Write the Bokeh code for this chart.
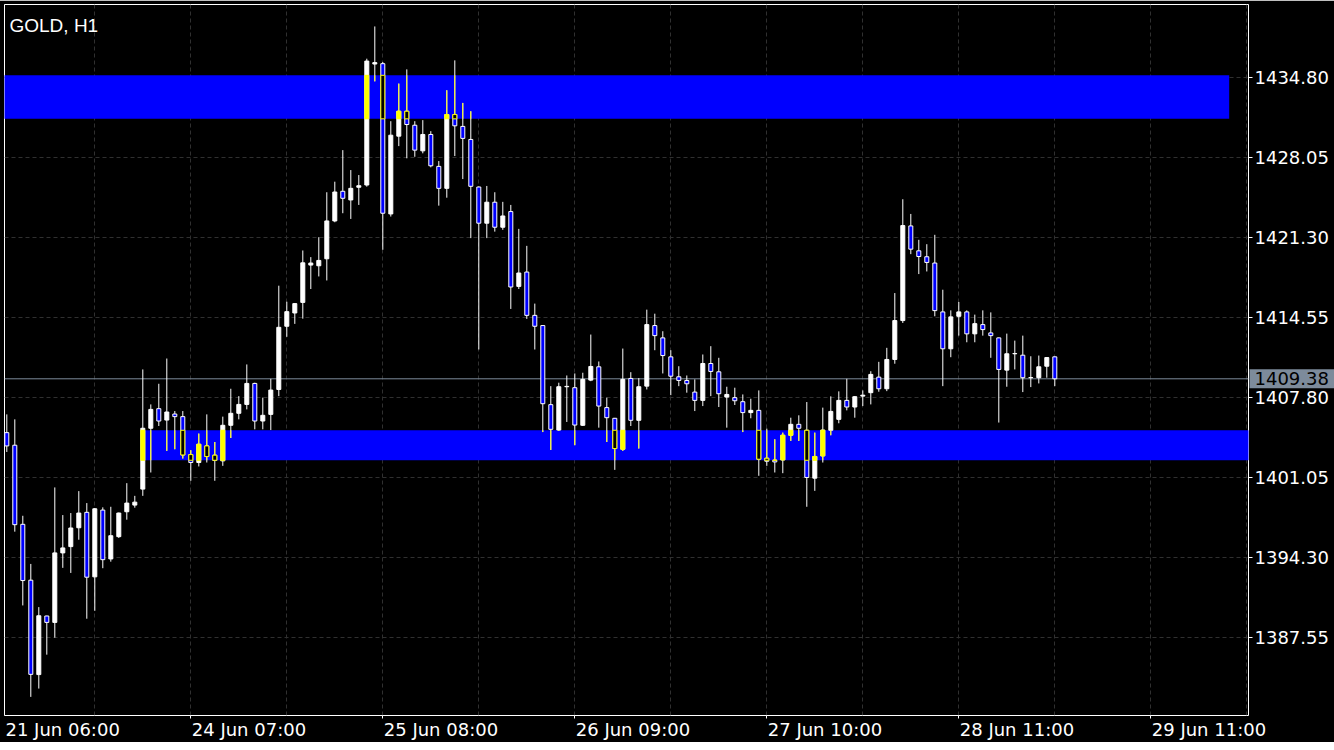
import numpy as np
from bokeh.plotting import figure
from bokeh.models import Range1d, FixedTicker, PrintfTickFormatter, Label, Span
from bokeh.embed import file_html
from bokeh.resources import INLINE

# ---------------- data (GOLD, H1) ----------------
opens = [1404.84, 1403.78, 1397.11, 1392.40, 1384.44, 1389.38, 1388.84, 1394.70, 1395.23, 1396.82,
         1398.12, 1392.68, 1398.31, 1394.19, 1396.07, 1398.17, 1398.73, 1400.08, 1405.21, 1406.86,
         1405.90, 1406.41, 1406.19, 1402.99, 1402.32, 1403.72, 1402.94, 1402.46, 1405.46, 1406.47,
         1407.22, 1408.99, 1405.82, 1406.38, 1408.48, 1413.81, 1414.93, 1415.82, 1418.97, 1418.91,
         1419.50, 1422.69, 1425.19, 1424.46, 1425.53, 1425.72, 1435.92, 1435.95, 1423.28, 1429.84,
         1431.94, 1430.76, 1428.60, 1429.98, 1427.29, 1425.44, 1431.66, 1430.66, 1429.56, 1425.55,
         1422.50, 1424.27, 1422.16, 1423.48, 1417.17, 1418.38, 1414.73, 1413.87, 1407.20, 1405.06,
         1408.71, 1408.63, 1405.46, 1409.27, 1410.39, 1406.95, 1406.05, 1403.44, 1409.41, 1405.88,
         1408.76, 1413.87, 1412.83, 1411.23, 1409.55, 1409.24, 1408.26, 1407.56, 1410.67, 1409.97,
         1407.84, 1407.79, 1407.45, 1406.53, 1406.72, 1402.68, 1402.52, 1402.54, 1404.62, 1405.54,
         1405.04, 1401.00, 1402.88, 1405.04, 1405.96, 1407.56, 1407.00, 1407.92, 1408.21, 1409.52,
         1408.54, 1411.01, 1414.29, 1422.27, 1420.17, 1419.67, 1419.14, 1415.02, 1411.91, 1414.65,
         1415.02, 1413.17, 1413.95, 1413.25, 1412.83, 1410.11, 1411.49, 1411.37, 1409.47, 1409.47,
         1410.44, 1411.23]
highs = [1406.38, 1405.96, 1397.83, 1393.77, 1390.13, 1389.40, 1400.22, 1397.89, 1398.06, 1399.91,
         1398.90, 1398.48, 1398.54, 1398.59, 1398.10, 1400.58, 1399.51, 1410.17, 1407.22, 1408.96,
         1411.09, 1406.66, 1406.66, 1403.36, 1404.76, 1406.38, 1404.05, 1406.19, 1408.54, 1407.92,
         1410.59, 1409.05, 1407.79, 1409.38, 1417.23, 1415.88, 1415.75, 1420.20, 1419.64, 1421.32,
         1425.11, 1426.00, 1428.66, 1426.98, 1426.56, 1436.37, 1439.09, 1436.09, 1431.10, 1434.27,
         1435.47, 1431.10, 1431.19, 1430.26, 1427.74, 1433.71, 1436.23, 1432.64, 1431.94, 1425.60,
         1425.64, 1425.11, 1424.30, 1424.04, 1422.02, 1420.59, 1415.72, 1413.90, 1408.76, 1409.05,
         1409.66, 1409.83, 1409.89, 1413.11, 1410.84, 1407.79, 1406.08, 1411.93, 1409.94, 1409.44,
         1415.21, 1414.87, 1413.39, 1411.79, 1410.44, 1409.66, 1409.33, 1411.43, 1412.13, 1411.15,
         1408.71, 1408.63, 1408.06, 1407.70, 1408.40, 1405.18, 1404.28, 1404.84, 1406.10, 1406.30,
         1407.42, 1404.84, 1406.95, 1407.90, 1408.32, 1409.38, 1407.92, 1408.40, 1410.02, 1410.81,
         1411.99, 1416.61, 1424.52, 1423.28, 1421.10, 1420.73, 1421.52, 1416.89, 1415.15, 1415.86,
         1415.15, 1414.79, 1415.15, 1414.98, 1412.86, 1413.19, 1412.60, 1413.02, 1411.28, 1411.34,
         1411.20, 1411.26]
lows = [1403.21, 1396.49, 1390.27, 1382.56, 1383.26, 1386.12, 1387.55, 1393.44, 1393.01, 1395.81,
        1389.15, 1389.82, 1393.41, 1393.96, 1395.96, 1397.50, 1398.51, 1399.51, 1401.48, 1405.40,
        1403.30, 1403.44, 1402.66, 1400.78, 1401.99, 1402.32, 1400.78, 1402.04, 1404.39, 1405.96,
        1406.80, 1405.12, 1405.12, 1405.06, 1407.92, 1412.92, 1414.01, 1414.45, 1416.95, 1418.01,
        1417.67, 1422.58, 1423.34, 1422.86, 1424.04, 1425.58, 1434.46, 1420.26, 1423.06, 1429.00,
        1427.97, 1428.10, 1428.39, 1427.21, 1423.98, 1424.65, 1428.16, 1426.22, 1421.24, 1411.85,
        1421.24, 1421.79, 1421.94, 1415.27, 1416.95, 1414.43, 1411.85, 1404.89, 1403.38, 1404.98,
        1405.74, 1403.78, 1405.40, 1409.18, 1405.26, 1404.05, 1401.70, 1403.30, 1405.40, 1403.50,
        1408.48, 1411.79, 1409.83, 1408.00, 1408.76, 1408.21, 1406.66, 1407.08, 1407.92, 1407.00,
        1405.26, 1407.17, 1404.89, 1406.05, 1401.20, 1402.04, 1401.48, 1401.42, 1404.14, 1404.14,
        1398.59, 1399.93, 1402.32, 1404.62, 1405.63, 1406.72, 1406.10, 1407.08, 1407.22, 1408.29,
        1408.34, 1410.65, 1414.09, 1419.89, 1418.21, 1418.43, 1414.65, 1408.76, 1411.20, 1413.02,
        1412.46, 1412.46, 1413.02, 1411.15, 1405.69, 1408.71, 1410.17, 1408.26, 1408.68, 1408.99,
        1409.47, 1408.76]
closes = [1403.72, 1397.08, 1392.37, 1384.46, 1389.40, 1388.84, 1394.70, 1395.12, 1396.80, 1398.06,
          1392.65, 1398.42, 1394.13, 1396.15, 1398.06, 1398.90, 1398.98, 1405.21, 1406.80, 1405.82,
          1406.58, 1406.19, 1402.96, 1402.32, 1403.86, 1402.83, 1402.49, 1405.46, 1406.47, 1407.22,
          1408.99, 1405.82, 1406.30, 1408.43, 1413.72, 1415.04, 1415.72, 1419.16, 1419.14, 1419.36,
          1422.69, 1425.13, 1424.60, 1425.44, 1425.66, 1436.17, 1436.04, 1423.34, 1429.92, 1431.94,
          1430.82, 1428.66, 1429.98, 1427.34, 1425.44, 1431.66, 1430.71, 1429.65, 1425.61, 1422.50,
          1424.27, 1422.16, 1423.11, 1417.12, 1418.30, 1414.73, 1413.81, 1407.28, 1405.12, 1408.71,
          1408.74, 1405.48, 1409.33, 1410.42, 1407.08, 1406.10, 1403.50, 1409.33, 1405.88, 1408.71,
          1413.95, 1413.02, 1411.34, 1409.60, 1409.24, 1408.96, 1407.56, 1410.67, 1410.00, 1408.12,
          1408.06, 1407.53, 1406.53, 1406.72, 1402.60, 1402.43, 1402.37, 1404.62, 1405.54, 1405.21,
          1401.06, 1402.83, 1405.06, 1406.63, 1407.56, 1407.00, 1407.87, 1408.00, 1409.75, 1408.54,
          1411.01, 1414.29, 1422.30, 1420.31, 1419.69, 1419.19, 1415.13, 1411.91, 1414.60, 1415.02,
          1413.17, 1414.03, 1413.53, 1413.02, 1410.17, 1411.49, 1411.51, 1409.47, 1409.49, 1410.39,
          1411.17, 1409.38]

# time axis labels (bar index -> label)
tick_bars = [-1, 23, 47, 71, 95, 119, 143]
tick_labels = ["21 Jun 06:00", "24 Jun 07:00", "25 Jun 08:00", "26 Jun 09:00",
               "27 Jun 10:00", "28 Jun 11:00", "29 Jun 11:00"]
grid_bars = [11, 23, 35, 47, 59, 71, 83, 95, 107, 119, 131, 143, 155]
price_ticks = [1387.55, 1394.30, 1401.05, 1407.80, 1414.55, 1421.30, 1428.05, 1434.80]

# supply / demand zones (bar index range, price range)
zone_left = [-10.0, 16.8]
zone_right = [152.8, 200.0]
zone_bottom = [1431.30, 1402.51]
zone_top = [1434.97, 1405.04]

symbol_title = "GOLD, H1"

# ---------------- view ----------------
x_start, x_end = -0.2875, 155.2125
y_start, y_end = 1380.99, 1440.94
PX_PER_BAR = 8.0

FONT = "DejaVu Sans"
FS = 18
# DejaVu Sans advance widths (em) used to left-align the centred time labels
ADV = {c: 0.636 for c in "0123456789"}
ADV.update({" ": 0.318, "J": 0.295, "u": 0.634, "n": 0.634, ":": 0.337})


def text_px(s):
    return sum(ADV.get(ch, 0.6) for ch in s) * FS


# a wide, empty left border holds the price-tag annotation panel; it is shifted
# out of view so the plotting frame starts 4px from the page edge
LEFT_PAD = 130
p = figure(width=LEFT_PAD + 1244 + 86, height=742,
           x_range=Range1d(x_start, x_end), y_range=Range1d(y_start, y_end),
           y_axis_location="right", output_backend="svg", toolbar_location=None,
           background_fill_color="black", border_fill_color="black",
           min_border_left=LEFT_PAD, min_border_top=4, min_border_right=86, min_border_bottom=25,
           outline_line_color="white", outline_line_width=1)
p.styles = {"margin-left": f"-{LEFT_PAD - 4}px"}

# grids
p.xgrid.ticker = FixedTicker(ticks=grid_bars)
for g in (p.xgrid, p.ygrid):
    g.grid_line_color = "#303030"
    g.grid_line_dash = "4 3"
    g.grid_line_width = 1

# y axis (right)
yax = p.yaxis[0]
yax.ticker = FixedTicker(ticks=price_ticks)
yax.formatter = PrintfTickFormatter(format="%.2f")
yax.axis_line_color = None
yax.major_tick_line_color = "white"
yax.major_tick_out = 4
yax.major_tick_in = 0
yax.minor_tick_line_color = None
yax.major_label_standoff = 2
yax.major_label_text_color = "white"
yax.major_label_text_font = FONT
yax.major_label_text_font_size = f"{FS}px"

# x axis (below): labels start at their tick, as on the terminal
label_pos = []
for b, lab in zip(tick_bars, tick_labels):
    start = max(b, x_start)
    label_pos.append(round(start + (text_px(lab) / 2 + 1) / PX_PER_BAR, 4))
xax = p.xaxis[0]
xax.ticker = FixedTicker(ticks=label_pos, minor_ticks=[b for b in tick_bars if b > x_start])
xax.major_label_overrides = {pos: lab for pos, lab in zip(label_pos, tick_labels)}
xax.axis_line_color = None
xax.major_tick_line_color = None
xax.minor_tick_line_color = "white"
xax.minor_tick_out = 3
xax.minor_tick_in = 0
xax.major_tick_out = 0
xax.major_tick_in = 0
xax.major_label_standoff = 0
xax.major_label_text_color = "white"
xax.major_label_text_font = FONT
xax.major_label_text_font_size = f"{FS}px"

# current price line (behind candles)
last = closes[-1]
p.add_layout(Span(location=last, dimension="width", line_color="#7d8b9b",
                  line_width=1, level="underlay"))

# zones
p.quad(left=zone_left, right=zone_right, bottom=zone_bottom, top=zone_top,
       fill_color="#0000ff", line_color=None)

# candles
o = np.array(opens); h = np.array(highs); l = np.array(lows); c = np.array(closes)
idx = np.arange(len(o))
bull = c >= o
btop = np.maximum(o, c)
bbot = np.minimum(o, c)

p.segment(x0=idx, y0=l, x1=idx, y1=h, line_color="white", line_width=1)
p.vbar(x=idx[bull], width=0.5, top=btop[bull], bottom=bbot[bull],
       fill_color="white", line_color="white", line_width=1)
p.vbar(x=idx[~bull], width=0.5, top=btop[~bull], bottom=bbot[~bull],
       fill_color="#0000ff", line_color="white", line_width=1)

# inverted colouring where candles cross the blue zones
for zl, zr, zb, zt in zip(zone_left, zone_right, zone_bottom, zone_top):
    inx = (idx >= zl) & (idx <= zr)
    wt = np.minimum(h, zt); wb = np.maximum(l, zb)
    mw = inx & (wt > wb)
    p.segment(x0=idx[mw], y0=wb[mw], x1=idx[mw], y1=wt[mw], line_color="#ffff00", line_width=1)
    ot = np.minimum(btop, zt); ob = np.maximum(bbot, zb)
    mb = inx & (ot > ob)
    mbull = mb & bull
    mbear = mb & ~bull
    p.vbar(x=idx[mbull], width=0.5, top=ot[mbull], bottom=ob[mbull],
           fill_color="#ffff00", line_color="#ffff00", line_width=1)
    p.vbar(x=idx[mbear], width=0.5, top=ot[mbear], bottom=ob[mbear],
           fill_color="black", line_color="#ffff00", line_width=1)

# title inside the chart
p.add_layout(Label(x=x_start, y=y_end, x_offset=5, y_offset=-21, text=symbol_title,
                   text_color="white", text_font="Liberation Sans", text_font_size="19px",
                   text_baseline="alphabetic"))

# current price tag on the price scale (side-panel annotation, so it is not clipped)
p.add_layout(Label(x=x_end, y=last, x_offset=1, y_offset=0, text=f"{last:.2f}",
                   text_color="black", text_font=FONT, text_font_size=f"{FS}px",
                   text_baseline="middle", text_align="left",
                   background_fill_color="#7d8b9b",
                   padding=dict(left=5, right=20, top=3, bottom=3)), "left")

open("out.html", "w").write(file_html(p, INLINE))
